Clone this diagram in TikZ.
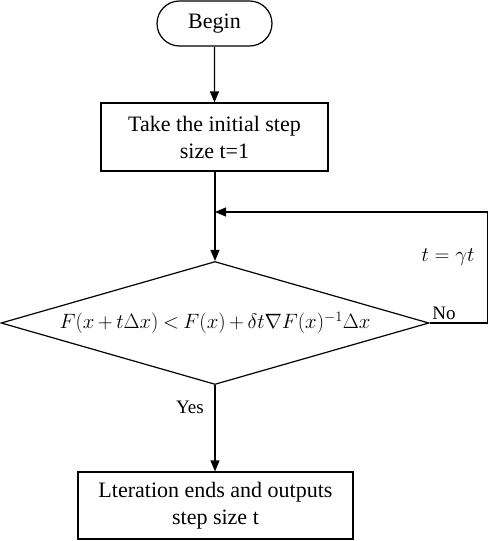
\documentclass[tikz,border=0pt]{standalone}
\usepackage{amsmath, amssymb}
\usepackage{fontspec}
\setmainfont{Liberation Serif}
\usepackage{tikz}
\usetikzlibrary{arrows.meta, positioning, calc, shapes.geometric, shapes.misc}

\begin{document}
\begin{tikzpicture}[
  x=1pt, y=-1pt,
  txt/.style={font=\fontsize{22}{27}\selectfont, align=center},
  lbl/.style={font=\fontsize{19}{22}\selectfont},
  term/.style={txt, draw, line width=1.2pt, rounded rectangle,
    minimum width=115pt, minimum height=45pt, inner sep=0pt},
  proc/.style={txt, draw, line width=1.2pt, minimum height=68pt, inner sep=0pt},
  cond/.style={draw, line width=1.2pt, diamond, aspect=3.48,
    font=\fontsize{20}{24}\selectfont,
    minimum width=428pt, minimum height=123pt, inner sep=0pt},
  arr/.style={-{Triangle[length=11pt, width=9pt]}, line width=1.2pt}
]
  \useasboundingbox (0,0) rectangle (491,541);

  % Begin
  \node[term] (begin) at (214.5, 23.5) {Begin};

  % Initial step size
  \node[proc, minimum width=227pt] (init) at (214.5, 137)
    {Take the initial step\\ size t=1};

  % Armijo condition
  \node[cond] (cond) at (215, 323)
    {$\thickmuskip=4mu \medmuskip=3mu
     F(x+t\Delta x) < F(x) + \delta t \nabla F(x)^{-1}\Delta x$};

  % End
  \node[proc, minimum width=275pt, minimum height=67pt] (done) at (215.5, 505.5)
    {Lteration ends and outputs\\ step size t};

  \coordinate (join) at (215, 212);
  \draw[arr] (begin) -- (init);
  \draw[arr] (init.south -| cond.north) -- (cond.north);
  \draw[arr] (cond.east) -- ++(58,0) |- (join);
  \draw[arr] (cond.south) -- (done.north -| cond.south);

  % Labels
  \node[lbl] (no) at (444, 313) {No};
  \node[font=\fontsize{20}{24}\selectfont] (shrink) at (448, 257) {$t = \gamma t$};
  \node[lbl] (yes) at (190, 407) {Yes};
\end{tikzpicture}
\end{document}
